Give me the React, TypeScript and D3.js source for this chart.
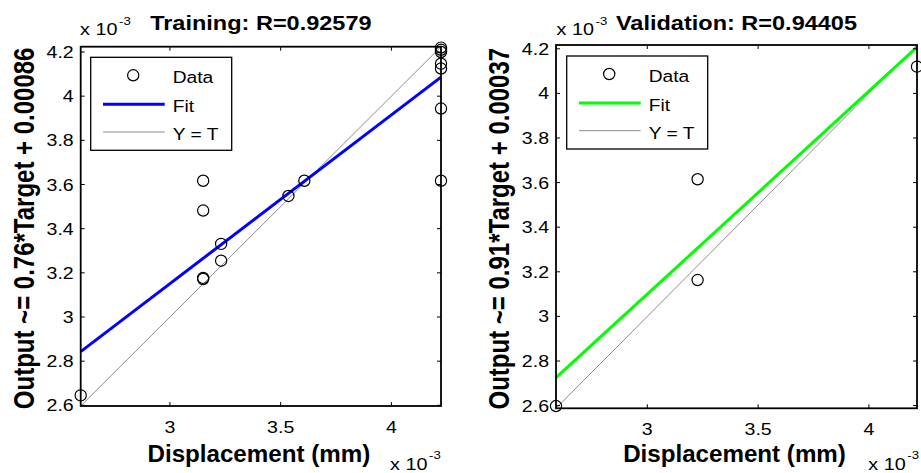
import React from "react";
import * as d3 from "d3";

// values in units of 1e-3 mm
const trainTarget = [2.597, 3.15, 3.15, 3.15, 3.15, 3.231, 3.231, 3.535, 3.607, 4.224, 4.224, 4.224, 4.224, 4.224, 4.224, 4.224];
const trainOutput = [2.645, 3.617, 3.482, 3.177, 3.172, 3.331, 3.255, 3.548, 3.617, 4.22, 4.21, 4.2, 4.147, 4.125, 3.944, 3.617];
const valTarget = [2.588, 3.227, 3.227, 4.217];
const valOutput = [2.598, 3.615, 3.163, 4.12];

const fitSlopes = [0.764, 0.91];
const fitIntercepts = [0.859, 0.37];
const panelTitles = ["Training: R=0.92579", "Validation: R=0.94405"];
const yLabels = ["Output ~= 0.76*Target + 0.00086", "Output ~= 0.91*Target + 0.00037"];
const fitColors = ["#0000ff", "#00ff00"];
const legendLabels = ["Data", "Fit", "Y = T"];

const xTicks = [3, 3.5, 4];
const yTicks = [2.6, 2.8, 3, 3.2, 3.4, 3.6, 3.8, 4, 4.2];

const FONT = "'Liberation Sans', Arial, Helvetica, sans-serif";
const GRAY = "#8c8c8c";

const SText = ({ x, y, size, bold = false, anchor = "start", sx = 1, children }: any) => (
  <text
    transform={`translate(${x},${y}) scale(${sx},1)`}
    fontFamily={FONT}
    fontSize={size}
    fontWeight={bold ? "bold" : "normal"}
    textAnchor={anchor}
    fill="#000"
  >
    {children}
  </text>
);

const Panel = ({ box, target, output, idx, legend, exp }: any) => {
  const lim = d3.extent([...target, ...output]) as [number, number];
  const xs = d3.scaleLinear().domain(lim).range([box.x0, box.x1]);
  const ys = d3.scaleLinear().domain(lim).range([box.y1, box.y0]);
  const line = d3
    .line<number>()
    .x((t) => xs(t))
    .y((t) => ys(fitSlopes[idx] * t + fitIntercepts[idx]));
  const diag = d3
    .line<number>()
    .x((t) => xs(t))
    .y((t) => ys(t));
  const cx = (box.x0 + box.x1) / 2;
  const cy = (box.y0 + box.y1) / 2;
  const tl = 4;

  return (
    <g>
      <rect x={box.x0} y={box.y0} width={box.x1 - box.x0} height={box.y1 - box.y0} fill="#fff" />
      <path d={diag(lim) || ""} stroke={GRAY} strokeWidth={1} fill="none" />
      <path d={line(lim) || ""} stroke={fitColors[idx]} strokeWidth={3} fill="none" />

      {/* axes box and ticks */}
      <rect
        x={box.x0}
        y={box.y0}
        width={box.x1 - box.x0}
        height={box.y1 - box.y0}
        fill="none"
        stroke="#000"
        strokeWidth={1.8}
      />
      {xTicks.map((t) => (
        <g key={"x" + t}>
          <line x1={xs(t)} x2={xs(t)} y1={box.y1} y2={box.y1 - tl} stroke="#000" />
          <line x1={xs(t)} x2={xs(t)} y1={box.y0} y2={box.y0 + tl} stroke="#000" />
          <SText x={xs(t)} y={box.y1 + 26.5} size={17} sx={1.15} anchor="middle">
            {String(t)}
          </SText>
        </g>
      ))}
      {yTicks.map((t) => (
        <g key={"y" + t}>
          <line x1={box.x0} x2={box.x0 + tl} y1={ys(t)} y2={ys(t)} stroke="#000" />
          <line x1={box.x1} x2={box.x1 - tl} y1={ys(t)} y2={ys(t)} stroke="#000" />
          <SText x={box.x0 - 7} y={ys(t) + 6} size={17} sx={1.15} anchor="end">
            {String(t)}
          </SText>
        </g>
      ))}

      {target.map((t: number, i: number) => (
        <circle key={i} cx={xs(t)} cy={ys(output[i])} r={5.6} fill="none" stroke="#000" strokeWidth={1.2} />
      ))}

      {/* exponent labels */}
      <SText x={exp.tx} y={35} size={16.5} sx={1.2}>x 10</SText>
      <SText x={exp.tx + 39} y={25} size={11} sx={1.2}>-3</SText>
      <SText x={exp.bx} y={470} size={16.5} sx={1.2}>x 10</SText>
      <SText x={exp.bx + 39} y={459} size={11} sx={1.2}>-3</SText>

      {/* titles and labels */}
      <SText x={cx} y={30} size={21} bold sx={1.12} anchor="middle">
        {panelTitles[idx]}
      </SText>
      <SText x={cx - 2} y={462} size={23} bold sx={1.05} anchor="middle">
        Displacement (mm)
      </SText>
      <text
        transform={`translate(${box.x0 - 47},${cy + 2}) rotate(-90) scale(1,1.2)`}
        fontFamily={FONT}
        fontSize={24}
        fontWeight="bold"
        textAnchor="middle"
      >
        {yLabels[idx]}
      </text>

      {/* legend */}
      <g transform={`translate(${legend.x},${legend.y})`}>
        <rect x={0} y={0} width={141} height={93} fill="#fff" stroke="#000" strokeWidth={1.3} />
        <circle cx={42.5} cy={18} r={5.6} fill="none" stroke="#000" strokeWidth={1.2} />
        <line x1={12.3} x2={74} y1={47} y2={47} stroke={fitColors[idx]} strokeWidth={3} />
        <line x1={12.3} x2={74} y1={74.7} y2={74.7} stroke={GRAY} strokeWidth={1} />
        {legendLabels.map((l, i) => (
          <SText key={l} x={82} y={[18, 47, 74.7][i] + 8} size={17} sx={1.13}>
            {l}
          </SText>
        ))}
      </g>
    </g>
  );
};

export default function App() {
  return (
    <div style={{ position: "absolute", left: 0, top: 0 }}>
      <svg width={921} height={473} style={{ display: "block", background: "#fff" }}>
        <Panel
          box={{ x0: 80.7, x1: 441, y0: 46.7, y1: 406 }}
          target={trainTarget}
          output={trainOutput}
          idx={0}
          legend={{ x: 90.7, y: 57.3 }}
          exp={{ tx: 80, bx: 390 }}
        />
        <Panel
          box={{ x0: 556, x1: 917, y0: 45, y1: 408.3 }}
          target={valTarget}
          output={valOutput}
          idx={1}
          legend={{ x: 566.7, y: 56 }}
          exp={{ tx: 556.5, bx: 868.3 }}
        />
      </svg>
    </div>
  );
}
